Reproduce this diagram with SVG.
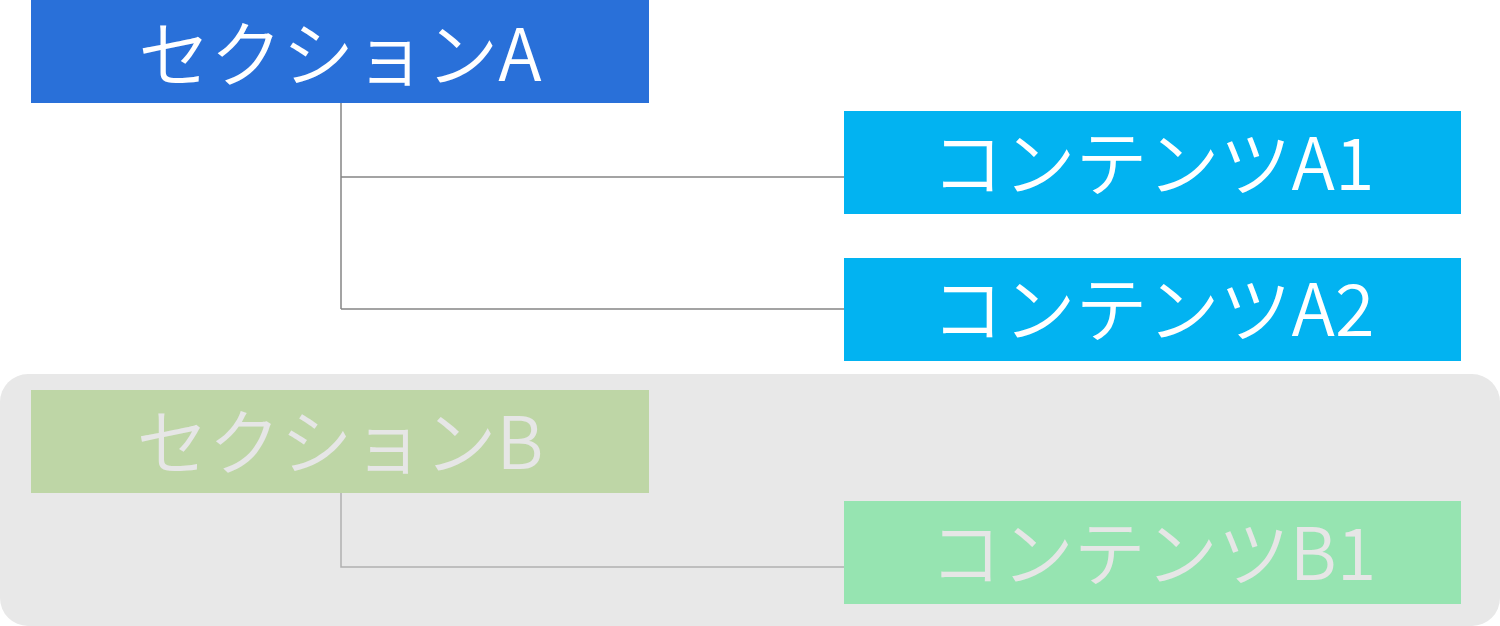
<svg xmlns="http://www.w3.org/2000/svg" width="1500" height="626" viewBox="0 0 1500 626">
<style>
.t{font-family:"Noto Sans CJK JP","Noto Sans",sans-serif;font-size:72px;font-weight:350;text-anchor:middle;}
.w{fill:#ffffff;}
.g{fill:#e6e6e6;}
.ca{fill:none;stroke:#858585;stroke-width:1.5;}
.cb{fill:none;stroke:#b0b0b0;stroke-width:1.5;}
</style>
<rect id="groupB" x="0" y="374" width="1500" height="252" rx="28" ry="28" fill="#e8e8e8"/>
<g id="connectors">
<path class="ca" d="M341,103 V309 M341,177 H844 M341,309 H844"/>
<path class="cb" d="M341,493 V567 H844"/>
</g>
<g id="sectionA">
<rect x="31" y="0" width="618" height="103" fill="#2970d9"/>
<text class="t w" x="340" y="81">セクションA</text>
</g>
<g id="contentA1">
<rect x="844" y="111" width="617" height="103" fill="#02b3f1"/>
<text class="t w" x="1153" y="190">コンテンツA1</text>
</g>
<g id="contentA2">
<rect x="844" y="258" width="617" height="103" fill="#02b3f1"/>
<text class="t w" x="1153" y="336">コンテンツA2</text>
</g>
<g id="sectionB">
<rect x="31" y="390" width="618" height="103" fill="#bed6a6"/>
<text class="t g" x="340" y="469">セクションB</text>
</g>
<g id="contentB1">
<rect x="844" y="501" width="617" height="103" fill="#96e4b1"/>
<text class="t g" x="1153" y="580">コンテンツB1</text>
</g>
</svg>
